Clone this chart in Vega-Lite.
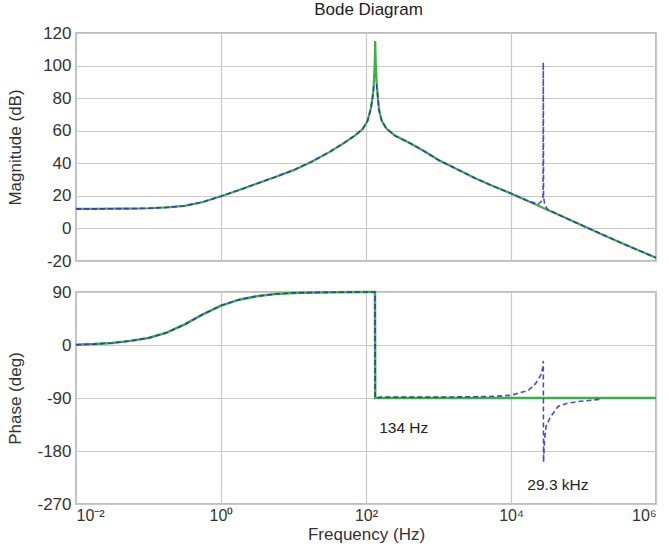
{
  "$schema": "https://vega.github.io/schema/vega-lite/v6.json",
  "background": "white",
  "padding": {"left": 5, "right": 5, "top": 1, "bottom": 3},
  "title": {"text": "Bode Diagram", "fontSize": 17, "fontWeight": "normal", "font": "Liberation Sans", "color": "#222", "anchor": "middle", "offset": 4, "dx": 35},
  "config": {
    "font": "Liberation Sans",
    "view": {"stroke": "#a8a8a8", "strokeWidth": 1.5},
    "axis": {
      "labelFont": "Liberation Sans", "labelFontSize": 17, "labelColor": "#333",
      "titleFont": "Liberation Sans", "titleFontSize": 17, "titleFontWeight": "normal", "titleColor": "#333",
      "gridColor": "#c8c8c8", "gridWidth": 1.2, "gridOpacity": 1, "domain": false, "ticks": false, "labelPadding": 5
    }
  },
  "datasets": {
    "mag": [
      {"f": 0.01, "db": 12.0, "sys": "g"}, {"f": 0.0178, "db": 12.0, "sys": "g"}, {"f": 0.0316, "db": 12.1, "sys": "g"}, {"f": 0.0562, "db": 12.2, "sys": "g"},
      {"f": 0.1, "db": 12.4, "sys": "g"}, {"f": 0.178, "db": 12.9, "sys": "g"}, {"f": 0.316, "db": 13.9, "sys": "g"}, {"f": 0.562, "db": 16.2, "sys": "g"},
      {"f": 1, "db": 19.8, "sys": "g"}, {"f": 1.78, "db": 23.6, "sys": "g"}, {"f": 3.16, "db": 27.6, "sys": "g"}, {"f": 5.62, "db": 31.6, "sys": "g"},
      {"f": 10, "db": 35.8, "sys": "g"}, {"f": 17.8, "db": 41.0, "sys": "g"}, {"f": 31.6, "db": 47.0, "sys": "g"}, {"f": 50, "db": 52.5, "sys": "g"},
      {"f": 70, "db": 57.0, "sys": "g"}, {"f": 90, "db": 61.0, "sys": "g"}, {"f": 105, "db": 66.0, "sys": "g"}, {"f": 117, "db": 74.0, "sys": "g"},
      {"f": 125, "db": 83.0, "sys": "g"}, {"f": 129, "db": 91.0, "sys": "g"}, {"f": 132, "db": 102.0, "sys": "g"}, {"f": 134, "db": 115.0, "sys": "g"},
      {"f": 136, "db": 102.0, "sys": "g"}, {"f": 140, "db": 90.0, "sys": "g"}, {"f": 146, "db": 80.0, "sys": "g"}, {"f": 151, "db": 73.0, "sys": "g"},
      {"f": 165, "db": 66.0, "sys": "g"}, {"f": 190, "db": 61.5, "sys": "g"}, {"f": 250, "db": 57.0, "sys": "g"}, {"f": 400, "db": 52.5, "sys": "g"},
      {"f": 631, "db": 47.5, "sys": "g"}, {"f": 1000, "db": 42.0, "sys": "g"}, {"f": 1778, "db": 36.5, "sys": "g"}, {"f": 3162, "db": 31.0, "sys": "g"},
      {"f": 5623, "db": 26.0, "sys": "g"}, {"f": 10000, "db": 21.5, "sys": "g"}, {"f": 17783, "db": 16.5, "sys": "g"}, {"f": 31623, "db": 11.5, "sys": "g"},
      {"f": 56234, "db": 6.5, "sys": "g"}, {"f": 100000, "db": 1.5, "sys": "g"}, {"f": 177828, "db": -3.5, "sys": "g"}, {"f": 316228, "db": -8.5, "sys": "g"},
      {"f": 562341, "db": -13.3, "sys": "g"}, {"f": 1000000, "db": -18.0, "sys": "g"},

      {"f": 0.01, "db": 12.0, "sys": "b"}, {"f": 0.0178, "db": 12.0, "sys": "b"}, {"f": 0.0316, "db": 12.1, "sys": "b"}, {"f": 0.0562, "db": 12.2, "sys": "b"},
      {"f": 0.1, "db": 12.4, "sys": "b"}, {"f": 0.178, "db": 12.9, "sys": "b"}, {"f": 0.316, "db": 13.9, "sys": "b"}, {"f": 0.562, "db": 16.2, "sys": "b"},
      {"f": 1, "db": 19.8, "sys": "b"}, {"f": 1.78, "db": 23.6, "sys": "b"}, {"f": 3.16, "db": 27.6, "sys": "b"}, {"f": 5.62, "db": 31.6, "sys": "b"},
      {"f": 10, "db": 35.8, "sys": "b"}, {"f": 17.8, "db": 41.0, "sys": "b"}, {"f": 31.6, "db": 47.0, "sys": "b"}, {"f": 50, "db": 52.5, "sys": "b"},
      {"f": 70, "db": 57.0, "sys": "b"}, {"f": 90, "db": 61.0, "sys": "b"}, {"f": 105, "db": 66.0, "sys": "b"}, {"f": 117, "db": 74.0, "sys": "b"},
      {"f": 125, "db": 82.0, "sys": "b"}, {"f": 129, "db": 88.0, "sys": "b"},
      {"f": 140, "db": 88.0, "sys": "b"}, {"f": 146, "db": 80.0, "sys": "b"}, {"f": 151, "db": 73.0, "sys": "b"},
      {"f": 165, "db": 66.0, "sys": "b"}, {"f": 190, "db": 61.5, "sys": "b"}, {"f": 250, "db": 57.0, "sys": "b"}, {"f": 400, "db": 52.5, "sys": "b"},
      {"f": 631, "db": 47.5, "sys": "b"}, {"f": 1000, "db": 42.0, "sys": "b"}, {"f": 1778, "db": 36.5, "sys": "b"}, {"f": 3162, "db": 31.0, "sys": "b"},
      {"f": 5623, "db": 26.0, "sys": "b"}, {"f": 10000, "db": 21.5, "sys": "b"}, {"f": 17783, "db": 16.5, "sys": "b"},
      {"f": 24000, "db": 15.0, "sys": "b"}, {"f": 26800, "db": 17.2, "sys": "b"}, {"f": 27700, "db": 19.5, "sys": "b"}, {"f": 27900, "db": 102.0, "sys": "b"},
      {"f": 28100, "db": 19.5, "sys": "b"}, {"f": 29000, "db": 15.5, "sys": "b"}, {"f": 31623, "db": 11.8, "sys": "b"},
      {"f": 56234, "db": 6.5, "sys": "b"}, {"f": 100000, "db": 1.5, "sys": "b"}, {"f": 177828, "db": -3.5, "sys": "b"}, {"f": 316228, "db": -8.5, "sys": "b"},
      {"f": 562341, "db": -13.3, "sys": "b"}, {"f": 1000000, "db": -18.0, "sys": "b"}
    ],
    "phase": [
      {"f": 0.01, "deg": 0.5, "sys": "g"}, {"f": 0.0178, "deg": 1.5, "sys": "g"}, {"f": 0.0316, "deg": 3.5, "sys": "g"}, {"f": 0.0562, "deg": 7, "sys": "g"},
      {"f": 0.1, "deg": 12, "sys": "g"}, {"f": 0.178, "deg": 21, "sys": "g"}, {"f": 0.316, "deg": 35, "sys": "g"}, {"f": 0.562, "deg": 52, "sys": "g"},
      {"f": 1, "deg": 67, "sys": "g"}, {"f": 1.78, "deg": 77, "sys": "g"}, {"f": 3.16, "deg": 83, "sys": "g"}, {"f": 5.62, "deg": 86.5, "sys": "g"},
      {"f": 10, "deg": 88.5, "sys": "g"}, {"f": 31.6, "deg": 89.5, "sys": "g"}, {"f": 100, "deg": 90, "sys": "g"}, {"f": 133, "deg": 90, "sys": "g"},
      {"f": 134, "deg": -90, "sys": "g"}, {"f": 1000, "deg": -90, "sys": "g"}, {"f": 1000000, "deg": -90, "sys": "g"},

      {"f": 0.01, "deg": 0.5, "sys": "b"}, {"f": 0.0178, "deg": 1.5, "sys": "b"}, {"f": 0.0316, "deg": 3.5, "sys": "b"}, {"f": 0.0562, "deg": 7, "sys": "b"},
      {"f": 0.1, "deg": 12, "sys": "b"}, {"f": 0.178, "deg": 21, "sys": "b"}, {"f": 0.316, "deg": 35, "sys": "b"}, {"f": 0.562, "deg": 52, "sys": "b"},
      {"f": 1, "deg": 67, "sys": "b"}, {"f": 1.78, "deg": 77, "sys": "b"}, {"f": 3.16, "deg": 83, "sys": "b"}, {"f": 5.62, "deg": 86.5, "sys": "b"},
      {"f": 10, "deg": 88.5, "sys": "b"}, {"f": 17.8, "deg": 89.2, "sys": "b"}, {"f": 100, "deg": 90, "sys": "b"}, {"f": 133, "deg": 90, "sys": "b"},
      {"f": 134, "deg": -90, "sys": "b"}, {"f": 155, "deg": -89, "sys": "b"},
      {"f": 160, "deg": -88.5, "sys": "b"}, {"f": 1000, "deg": -88.5, "sys": "b"}, {"f": 5000, "deg": -87.5, "sys": "b"}, {"f": 10000, "deg": -85.5, "sys": "b"},
      {"f": 17400, "deg": -77, "sys": "b"}, {"f": 22000, "deg": -65, "sys": "b"}, {"f": 26000, "deg": -50, "sys": "b"}, {"f": 27500, "deg": -38, "sys": "b"},
      {"f": 27900, "deg": -27, "sys": "b"}, {"f": 28100, "deg": -199, "sys": "b"}, {"f": 29000, "deg": -160, "sys": "b"}, {"f": 30500, "deg": -138, "sys": "b"},
      {"f": 34700, "deg": -123, "sys": "b"}, {"f": 44700, "deg": -104, "sys": "b"}, {"f": 60000, "deg": -99, "sys": "b"}, {"f": 85000, "deg": -96, "sys": "b"},
      {"f": 178000, "deg": -92, "sys": "b"}
    ],
    "notes": [
      {"f": 152, "deg": -141, "label": "134 Hz"},
      {"f": 16800, "deg": -237, "label": "29.3 kHz"}
    ]
  },
  "spacing": 12,
  "vconcat": [
    {
      "width": 580, "height": 228,
      "data": {"name": "mag"},
      "encoding": {
        "x": {"field": "f", "type": "quantitative", "scale": {"type": "log", "domain": [0.01, 1000000]},
              "axis": {"values": [0.01, 1, 100, 10000, 1000000], "labels": false, "title": null, "grid": true, "labelPadding": 0}},
        "y": {"field": "db", "type": "quantitative", "scale": {"domain": [-20, 120], "nice": false, "zero": false},
              "axis": {"values": [-20, 0, 20, 40, 60, 80, 100, 120], "title": "Magnitude (dB)", "titlePadding": 12, "minExtent": 40, "maxExtent": 40,
                       "labelExpr": "replace(datum.label, '\u2212', '-')"}}
      },
      "layer": [
        {"transform": [{"filter": "datum.sys === 'g'"}], "mark": {"type": "line", "color": "#3cb043", "strokeWidth": 2.2}},
        {"transform": [{"filter": "datum.sys === 'b'"}], "mark": {"type": "line", "color": "#2b2bcf", "strokeWidth": 1.6, "strokeDash": [5, 3], "opacity": 0.85}}
      ]
    },
    {
      "width": 580, "height": 212,
      "layer": [
        {
          "data": {"name": "phase"},
          "transform": [{"filter": "datum.sys === 'g'"}],
          "mark": {"type": "line", "color": "#3cb043", "strokeWidth": 2.5},
          "encoding": {
            "x": {"field": "f", "type": "quantitative", "scale": {"type": "log", "domain": [0.01, 1000000]},
                  "axis": {"values": [0.01, 1, 100, 10000, 1000000], "grid": true, "title": "Frequency (Hz)", "titlePadding": 3, "labelFontSize": 16, "labelPadding": 3,
                           "labelExpr": "datum.value < 0.1 ? '10⁻²' : datum.value < 10 ? '10⁰' : datum.value < 1000 ? '10²' : datum.value < 100000 ? '10⁴' : '10⁶'"}},
            "y": {"field": "deg", "type": "quantitative", "scale": {"domain": [-270, 90], "nice": false, "zero": false},
                  "axis": {"values": [-270, -180, -90, 0, 90], "title": "Phase (deg)", "titlePadding": 12, "minExtent": 40, "maxExtent": 40,
                           "labelExpr": "replace(datum.label, '\u2212', '-')"}}
          }
        },
        {
          "data": {"name": "phase"},
          "transform": [{"filter": "datum.sys === 'b'"}],
          "mark": {"type": "line", "color": "#2b2bcf", "strokeWidth": 1.6, "strokeDash": [5, 3], "opacity": 0.85},
          "encoding": {
            "x": {"field": "f", "type": "quantitative"},
            "y": {"field": "deg", "type": "quantitative"}
          }
        },
        {
          "data": {"name": "notes"},
          "mark": {"type": "text", "align": "left", "baseline": "middle", "fontSize": 15.5, "color": "#222", "font": "Liberation Sans"},
          "encoding": {
            "x": {"field": "f", "type": "quantitative"},
            "y": {"field": "deg", "type": "quantitative"},
            "text": {"field": "label"}
          }
        }
      ]
    }
  ]
}
